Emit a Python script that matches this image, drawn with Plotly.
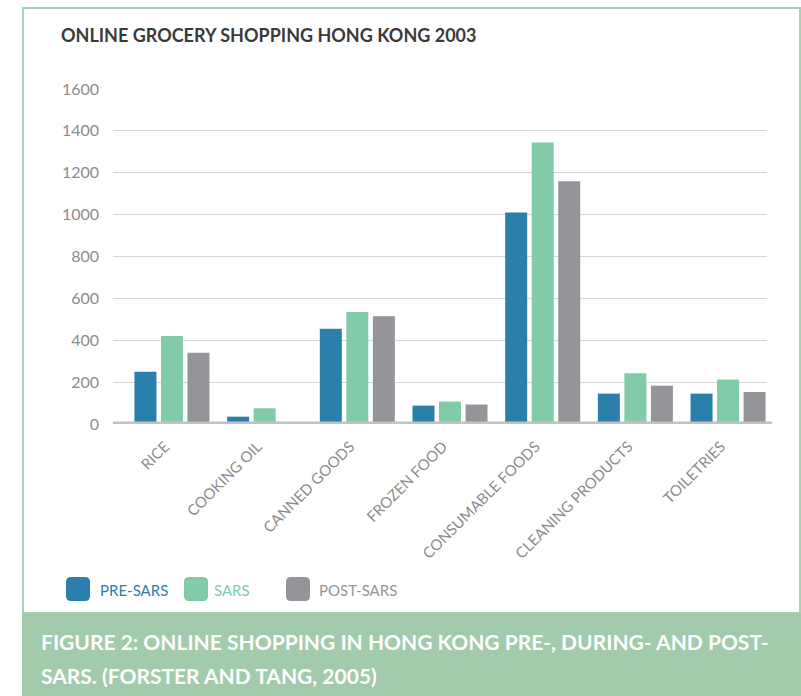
import plotly.graph_objects as go

categories = ["RICE", "COOKING OIL", "CANNED GOODS", "FROZEN FOOD",
              "CONSUMABLE FOODS", "CLEANING PRODUCTS", "TOILETRIES"]
pre_sars = [250, 35, 455, 88, 1010, 145, 145]
sars = [420, 75, 535, 107, 1345, 242, 212]
post_sars = [340, 0, 515, 93, 1160, 183, 153]
series_names = ["PRE-SARS", "SARS", "POST-SARS"]
series_colors = ["#2b80ab", "#82cba9", "#949598"]
y_ticks = [0, 200, 400, 600, 800, 1000, 1200, 1400, 1600]

W, H = 801, 696
PL, PR, PT, PB = 113, 767, 89, 424  # plot area in px


def px(x):
    return (x - PL) / (PR - PL)


def py(y):
    return (PB - y) / (PB - PT)


FONT = "Lato"

fig = go.Figure()
for name, vals, col in zip(series_names, [pre_sars, sars, post_sars], series_colors):
    fig.add_trace(go.Bar(x=categories, y=vals, name=name,
                         marker=dict(color=col, line=dict(width=0))))

shapes = []
# outer border
shapes.append(dict(type="rect", xref="paper", yref="paper",
                   x0=px(23), x1=px(800), y0=py(8), y1=py(613),
                   line=dict(color="#a6d3b3", width=2), fillcolor="rgba(0,0,0,0)",
                   layer="below"))
# caption bar
shapes.append(dict(type="rect", xref="paper", yref="paper",
                   x0=px(22), x1=px(802), y0=py(613), y1=py(697),
                   line=dict(width=0), fillcolor="#a1cbab", layer="below"))
# baseline
shapes.append(dict(type="line", xref="paper", yref="y",
                   x0=px(113), x1=px(772), y0=0, y1=0,
                   line=dict(color="#c2c2c2", width=5), layer="above"))


def rounded_box(x0, y0, x1, y1, r, color):
    X0, X1 = px(x0), px(x1)
    Y0, Y1 = py(y0), py(y1)
    rx = r / (PR - PL)
    ry = r / (PB - PT)
    path = (f"M {X0+rx},{Y0} L {X1-rx},{Y0} Q {X1},{Y0} {X1},{Y0-ry} "
            f"L {X1},{Y1+ry} Q {X1},{Y1} {X1-rx},{Y1} L {X0+rx},{Y1} "
            f"Q {X0},{Y1} {X0},{Y1+ry} L {X0},{Y0-ry} Q {X0},{Y0} {X0+rx},{Y0} Z")
    return dict(type="path", xref="paper", yref="paper", path=path,
                fillcolor=color, line=dict(width=0))


legend_pos = [(66, 98), (184, 212), (286, 317)]
annotations = []
for (bx, tx), name, col in zip(legend_pos, series_names, series_colors):
    shapes.append(rounded_box(bx, 577, bx + 24, 601, 5, col))
    annotations.append(dict(xref="paper", yref="paper", x=px(tx), y=py(589.5),
                            xanchor="left", yanchor="middle", showarrow=False,
                            text=name, font=dict(family=FONT, size=15, color=col)))

# title
annotations.append(dict(xref="paper", yref="paper", x=px(59), y=py(35),
                        xanchor="left", yanchor="middle", showarrow=False,
                        text="<b>ONLINE GROCERY SHOPPING HONG KONG 2003</b>",
                        font=dict(family=FONT, size=18, color="#3a3a3a")))
# caption
annotations.append(dict(xref="paper", yref="paper", x=px(39), y=py(641),
                        xanchor="left", yanchor="middle", showarrow=False,
                        text="<b>FIGURE 2: ONLINE SHOPPING IN HONG KONG PRE-, DURING- AND POST-</b>",
                        font=dict(family=FONT, size=21, color="white")))
annotations.append(dict(xref="paper", yref="paper", x=px(39), y=py(675),
                        xanchor="left", yanchor="middle", showarrow=False,
                        text="<b>SARS. (FORSTER AND TANG, 2005)</b>",
                        font=dict(family=FONT, size=21, color="white")))

fig.update_layout(
    width=W, height=H,
    margin=dict(l=PL, r=W - PR, t=PT, b=H - PB, pad=0),
    paper_bgcolor="white", plot_bgcolor="white",
    barmode="group", bargap=0.142, bargroupgap=0.17,
    showlegend=False,
    shapes=shapes, annotations=annotations,
    font=dict(family=FONT, color="#8c8c8c"),
)
fig.update_xaxes(range=[-0.636, 6.42], tickangle=-45, showgrid=False,
                 zeroline=False, showline=False, ticks="",
                 tickfont=dict(family=FONT, size=15, color="#8c8c8c"),
                 ticklabelstandoff=10, ticklabelshift=-7)
fig.update_yaxes(range=[0, 1600], tickvals=y_ticks, showgrid=True,
                 gridcolor="#d6d6d6", gridwidth=1, zeroline=False,
                 showline=False, ticks="",
                 tickfont=dict(family=FONT, size=16, color="#8c8c8c"),
                 ticklabelstandoff=13)

fig.write_html("out.html")
